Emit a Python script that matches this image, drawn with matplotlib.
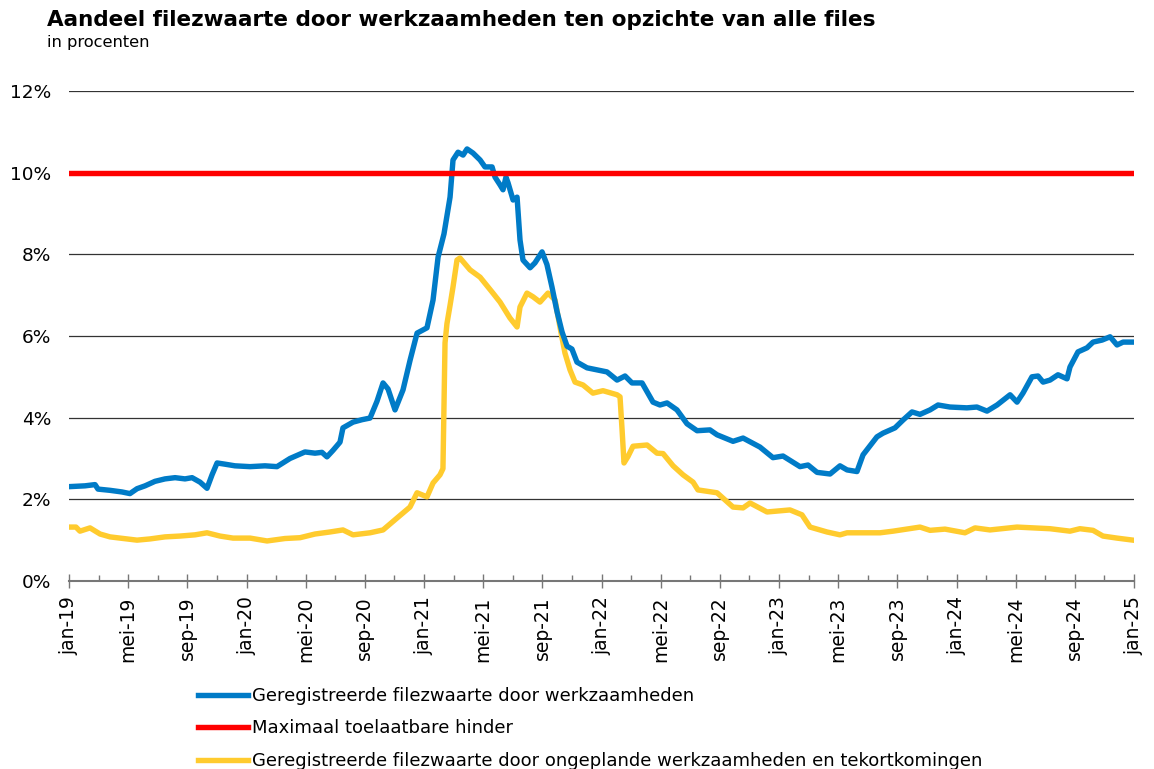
import matplotlib.pyplot as plt
from matplotlib.ticker import MultipleLocator, FuncFormatter

# maanden sinds jan-2019 en aandeel filezwaarte (%)
blue_months = [0, 1.08, 1.76, 1.96, 2.77, 3.58, 4.12, 4.60, 5.14, 5.81, 6.49, 7.17, 7.84,
               8.32, 8.86, 9.33, 9.67, 10.01, 10.55, 11.22, 12.24, 13.25, 14.06, 14.94,
               15.95, 16.63, 17.10, 17.44, 17.85, 18.32, 18.52, 19.20, 19.81, 20.35, 20.82,
               21.23, 21.57, 22.04, 22.58, 23.06, 23.53, 24.20, 24.61, 24.95, 25.35, 25.76,
               25.96, 26.30, 26.64, 26.91, 27.31, 27.79, 28.12, 28.60, 28.80, 29.14, 29.34,
               29.54, 29.68, 30.02, 30.29, 30.49, 30.69, 31.17, 31.50, 31.98, 32.31, 32.65,
               32.99, 33.33, 33.67, 34.00, 34.34, 35.02, 35.70, 36.37, 37.05, 37.59, 38.06,
               38.74, 39.48, 39.95, 40.43, 41.10, 41.78, 42.46, 43.33, 43.81, 44.89, 45.57,
               46.71, 47.59, 48.27, 49.42, 49.96, 50.57, 51.45, 52.12, 52.60, 53.27, 53.68,
               54.62, 55.03, 55.84, 56.38, 56.99, 57.53, 58.21, 58.75, 59.55, 60.70, 61.38,
               62.06, 62.74, 63.62, 64.09, 64.49, 65.10, 65.51, 65.85, 66.32, 66.86, 67.47,
               67.67, 68.21, 68.82, 69.23, 69.84, 70.38, 70.85, 71.26, 72.0]
blue_values = [2.31, 2.33, 2.36, 2.25, 2.22, 2.18, 2.14, 2.26, 2.33, 2.44, 2.50, 2.53, 2.50,
               2.53, 2.42, 2.27, 2.60, 2.89, 2.86, 2.82, 2.80, 2.82, 2.80, 3.00,
               3.16, 3.13, 3.15, 3.04, 3.20, 3.40, 3.75, 3.89, 3.95, 3.99, 4.40,
               4.85, 4.70, 4.19, 4.68, 5.41, 6.07, 6.20, 6.88, 7.93, 8.50, 9.40,
               10.31, 10.50, 10.43, 10.58, 10.48, 10.31, 10.14, 10.14, 9.89, 9.70, 9.58,
               9.89, 9.75, 9.33, 9.40, 8.35, 7.86, 7.67, 7.79, 8.06, 7.75, 7.20,
               6.60, 6.10, 5.75, 5.68, 5.36, 5.22, 5.17, 5.12, 4.92, 5.02, 4.85,
               4.85, 4.38, 4.31, 4.36, 4.19, 3.85, 3.68, 3.70, 3.58, 3.42, 3.50,
               3.28, 3.02, 3.06, 2.80, 2.84, 2.66, 2.62, 2.82, 2.72, 2.68, 3.09,
               3.53, 3.62, 3.75, 3.94, 4.14, 4.08, 4.19, 4.31, 4.26, 4.24, 4.26,
               4.16, 4.31, 4.56, 4.38, 4.60, 5.00, 5.02, 4.87, 4.92, 5.05, 4.95,
               5.24, 5.61, 5.71, 5.85, 5.90, 5.98, 5.78, 5.85, 5.85]

yellow_months = [0, 0.47, 0.74, 1.42, 2.10, 2.77, 3.45, 4.60, 5.48, 6.49, 7.50, 8.52, 9.33,
                 10.21, 11.09, 12.24, 13.39, 14.60, 15.62, 16.63, 17.64, 18.52, 19.20, 20.35,
                 21.23, 22.17, 23.05, 23.53, 24.20, 24.61, 25.08, 25.28, 25.42, 25.55, 25.76,
                 25.96, 26.23, 26.43, 27.11, 27.79, 28.66, 29.14, 29.81, 30.29, 30.49, 30.96,
                 31.37, 31.84, 32.38, 32.86, 33.19, 33.53, 33.87, 34.21, 34.75, 35.42, 36.10,
                 37.05, 37.25, 37.39, 37.52, 37.79, 38.13, 39.08, 39.75, 40.16, 40.84, 41.51,
                 42.19, 42.52, 43.81, 44.89, 45.57, 46.04, 47.19, 48.74, 49.55, 50.10, 51.24,
                 52.12, 52.60, 54.83, 55.71, 57.53, 58.21, 59.22, 60.57, 61.25, 62.26, 64.09,
                 66.32, 67.67, 68.34, 69.23, 69.90, 70.85, 71.93]
yellow_values = [1.32, 1.32, 1.22, 1.30, 1.15, 1.08, 1.05, 1.00, 1.03, 1.08, 1.10, 1.13, 1.18,
                 1.10, 1.05, 1.05, 0.98, 1.04, 1.06, 1.15, 1.20, 1.25, 1.13, 1.18,
                 1.25, 1.54, 1.81, 2.16, 2.06, 2.40, 2.60, 2.75, 5.83, 6.30, 6.75,
                 7.20, 7.86, 7.91, 7.62, 7.44, 7.05, 6.83, 6.44, 6.22, 6.71, 7.05,
                 6.96, 6.83, 7.05, 6.88, 6.22, 5.58, 5.17, 4.87, 4.80, 4.60, 4.66,
                 4.56, 4.51, 3.70, 2.89, 3.05, 3.30, 3.33, 3.13, 3.12, 2.82, 2.60,
                 2.42, 2.23, 2.16, 1.81, 1.79, 1.91, 1.69, 1.74, 1.62, 1.32, 1.20,
                 1.13, 1.18, 1.18, 1.22, 1.32, 1.24, 1.27, 1.18, 1.30, 1.25, 1.32,
                 1.28, 1.22, 1.28, 1.24, 1.10, 1.05, 1.00]

max_hinder = 10

tick_labels = ['jan-19', 'mei-19', 'sep-19', 'jan-20', 'mei-20', 'sep-20', 'jan-21',
               'mei-21', 'sep-21', 'jan-22', 'mei-22', 'sep-22', 'jan-23', 'mei-23',
               'sep-23', 'jan-24', 'mei-24', 'sep-24', 'jan-25']

labels = ['Geregistreerde filezwaarte door werkzaamheden',
          'Maximaal toelaatbare hinder',
          'Geregistreerde filezwaarte door ongeplande werkzaamheden en tekortkomingen']

BLUE = '#007BC7'
RED = '#FF0000'
YELLOW = '#FFCB2E'

plt.rcParams['font.family'] = ['DejaVu Sans']

fig = plt.figure(figsize=(11.54, 7.69), dpi=100)
ax = fig.add_axes([0.0598, 0.2445, 0.9229, 0.6372])

for y in range(2, 13, 2):
    ax.axhline(y, color='#333333', lw=0.9, zorder=1)

l1, = ax.plot(blue_months, blue_values, color=BLUE, lw=3.9, solid_joinstyle='round', zorder=3)
l2 = ax.axhline(max_hinder, color=RED, lw=3.9, zorder=4)
l3, = ax.plot(yellow_months, yellow_values, color=YELLOW, lw=3.9, solid_joinstyle='round', zorder=2)

ax.set_xlim(0, 72)
ax.set_ylim(0, 12)
ax.yaxis.set_major_locator(MultipleLocator(2))
ax.yaxis.set_major_formatter(FuncFormatter(lambda v, p: f'{v:.0f}%'))
ax.tick_params(axis='y', length=0, pad=13, labelsize=13.3)

ax.set_xticks(range(0, 73, 4))
ax.set_xticklabels(tick_labels, rotation=90)
ax.xaxis.set_minor_locator(MultipleLocator(2))
ax.tick_params(axis='x', which='major', direction='inout', length=10, width=1,
               color='#777777', labelsize=13.5, pad=6)
ax.tick_params(axis='x', which='minor', direction='in', length=4, width=1, color='#777777')

for s in ['top', 'right', 'left']:
    ax.spines[s].set_visible(False)
ax.spines['bottom'].set_color('#777777')
ax.spines['bottom'].set_linewidth(1.5)
ax.spines['bottom'].set_zorder(5)

fig.text(0.041, 0.966, 'Aandeel filezwaarte door werkzaamheden ten opzichte van alle files',
         fontsize=15.5, fontweight='bold', va='baseline')
fig.text(0.041, 0.939, 'in procenten', fontsize=11.7, va='baseline')

fig.legend([l1, l2, l3], labels, loc='upper left', bbox_to_anchor=(0.1716, 0.1066),
           frameon=False, fontsize=13, handlelength=2.75, handletextpad=0.25,
           labelspacing=0.8, borderpad=0, borderaxespad=0)

fig.savefig('out.png', dpi=100)
